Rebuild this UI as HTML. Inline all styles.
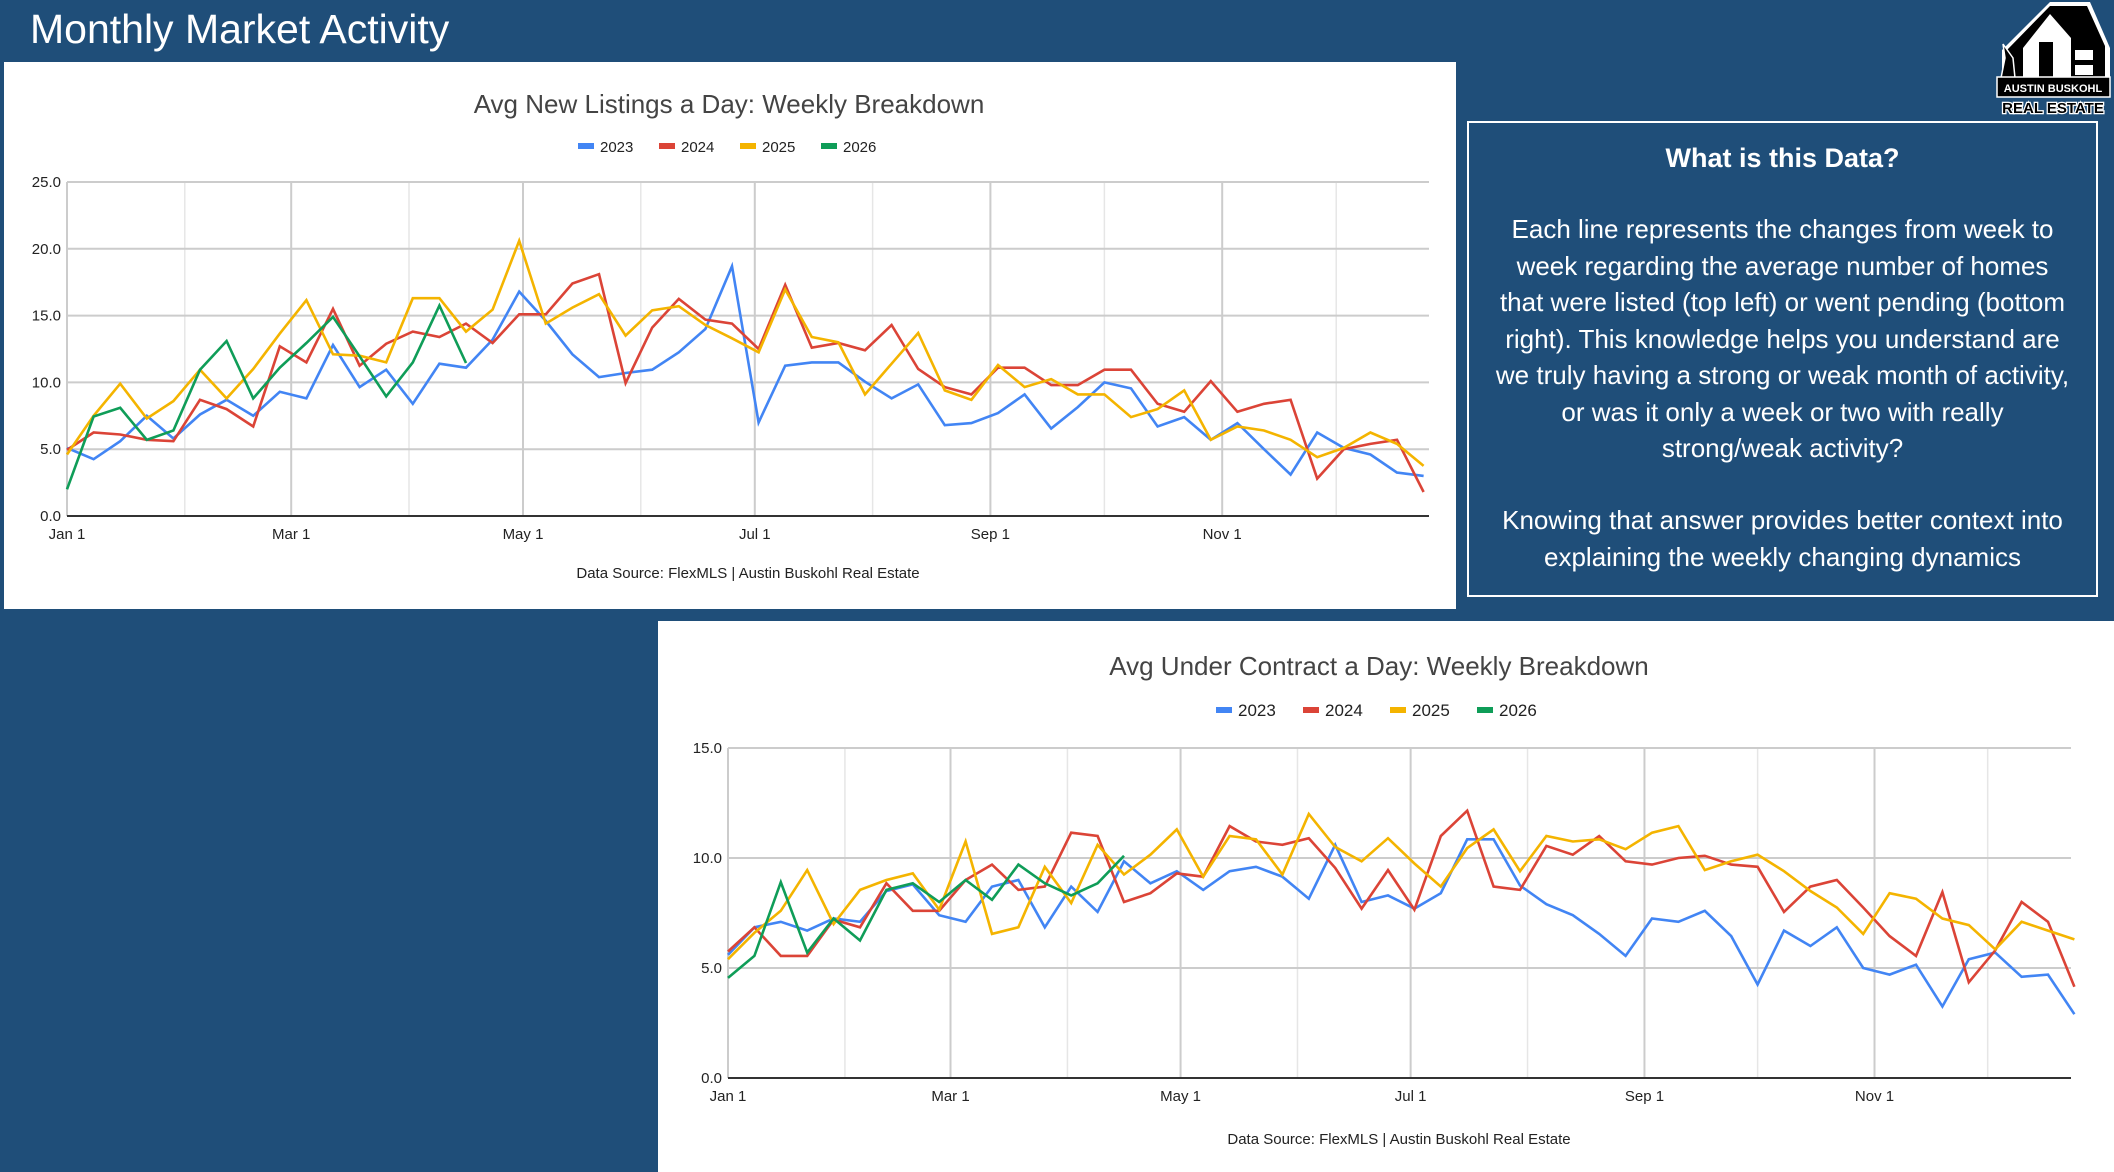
<!DOCTYPE html>
<html><head><meta charset="utf-8">
<style>
html,body{margin:0;padding:0;}
body{width:2114px;height:1172px;background:#1f4e79;position:relative;overflow:hidden;font-family:"Liberation Sans",sans-serif;}
.abs{position:absolute;}
#page-title{left:30px;top:6px;color:#fff;font-size:41px;}
.card{background:#fff;position:absolute;}
#info-box{position:absolute;left:1467px;top:121px;width:627px;height:472px;border:2px solid #fff;color:#fff;text-align:center;}
#info-box .t{font-weight:bold;font-size:27px;position:absolute;left:0;right:0;top:20px;}
#info-box .b{font-size:26px;line-height:36.5px;position:absolute;left:24px;right:24px;}
</style></head>
<body>
<div id="page-title" class="abs">Monthly Market Activity</div>

<svg class="abs" style="left:1975px;top:0" width="139" height="118">
 <polygon points="27,50 75,2 115,2 135,48 135,85 27,85" fill="#fff"/>
 <polygon points="32,50 75,6 112,6 130,46 130,80 32,80" fill="#000"/>
 <polygon points="48,48 75,14 96,38 96,78 48,78" fill="#fff"/>
 <rect x="64" y="42" width="14" height="36" fill="#000"/>
 <rect x="100" y="50" width="18" height="10" fill="#fff"/>
 <rect x="100" y="65" width="18" height="10" fill="#fff"/>
 <path d="M28,44 L30,58 L26,78 L40,78 L38,58 Z" fill="#000" stroke="#fff" stroke-width="1.5"/>
 <rect x="22" y="77" width="113" height="20" fill="#000" stroke="#fff" stroke-width="1.5"/>
 <text x="78" y="92" fill="#fff" font-size="11" font-weight="bold" text-anchor="middle" font-family="Liberation Sans, sans-serif">AUSTIN BUSKOHL</text>
 <text x="78" y="113" fill="#000" stroke="#fff" stroke-width="2.5" paint-order="stroke" font-size="15" font-weight="bold" text-anchor="middle" font-family="Liberation Sans, sans-serif">REAL ESTATE</text>
</svg>

<div class="card" style="left:4px;top:62px;width:1452px;height:547px"></div>
<div class="card" style="left:658px;top:621px;width:1456px;height:551px"></div>

<div id="info-box">
 <div class="t">What is this Data?</div>
 <div class="b" style="top:88px">Each line represents the changes from week to week regarding the average number of homes that were listed (top left) or went pending (bottom right). This knowledge helps you understand are we truly having a strong or weak month of activity, or was it only a week or two with really strong/weak activity?</div>
 <div class="b" style="top:379px">Knowing that answer provides better context into explaining the weekly changing dynamics</div>
</div>

<svg id="chart" class="abs" style="left:0;top:0" width="2114" height="1172"></svg>

<script>
const years = ["2023","2024","2025","2026"];
const colors = ["#4285f4","#db4437","#f4b400","#0f9d58"];
const monthLabels = ["Jan 1","Mar 1","May 1","Jul 1","Sep 1","Nov 1"];
const monthDays = [0,31,59,90,120,151,181,212,243,273,304,334];
const topTicks = [0,5,10,15,20,25];
const botTicks = [0,5,10,15];

const newList2023 = [5.1,4.25,5.6,7.5,5.8,7.6,8.7,7.5,9.3,8.8,12.8,9.65,10.95,8.4,11.4,11.1,13.2,16.8,14.6,12.1,10.4,10.7,10.95,12.25,14,18.7,7.0,11.25,11.5,11.5,10.05,8.8,9.85,6.8,6.95,7.7,9.1,6.55,8.15,10,9.55,6.7,7.4,5.7,6.95,5,3.1,6.25,5.1,4.6,3.25,3];
const newList2024 = [4.95,6.25,6.1,5.7,5.6,8.7,8,6.7,12.7,11.5,15.5,11.25,12.9,13.8,13.4,14.4,12.95,15.1,15.1,17.4,18.1,9.95,14.1,16.25,14.7,14.4,12.5,17.3,12.6,12.95,12.4,14.3,11,9.65,9.1,11.1,11.1,9.8,9.8,10.95,10.95,8.4,7.8,10.1,7.8,8.4,8.7,2.8,5,5.4,5.7,1.8];
const newList2025 = [4.6,7.5,9.9,7.3,8.6,10.95,8.8,11,13.65,16.15,12.1,12,11.5,16.3,16.3,13.8,15.45,20.6,14.4,15.6,16.6,13.5,15.4,15.7,14.3,13.3,12.25,16.95,13.4,13,9.1,11.4,13.7,9.4,8.7,11.3,9.65,10.25,9.1,9.1,7.4,8,9.4,5.7,6.7,6.4,5.7,4.4,5.1,6.25,5.4,3.75];
const newList2026 = [2,7.45,8.1,5.7,6.4,10.95,13.1,8.8,11.1,12.95,14.9,11.95,8.95,11.5,15.75,11.45];

const uc2023 = [5.6,6.85,7.1,6.7,7.25,7.1,8.5,8.8,7.4,7.1,8.7,9,6.85,8.7,7.55,9.85,8.85,9.4,8.55,9.4,9.6,9.15,8.15,10.6,8,8.3,7.7,8.4,10.85,10.85,8.75,7.9,7.4,6.55,5.55,7.25,7.1,7.6,6.45,4.25,6.7,6,6.85,5,4.7,5.15,3.25,5.4,5.7,4.6,4.7,2.9];
const uc2024 = [5.75,6.85,5.55,5.55,7.2,6.85,8.85,7.6,7.6,9,9.7,8.55,8.7,11.15,11,8,8.4,9.3,9.15,11.45,10.75,10.6,10.9,9.55,7.7,9.45,7.65,11,12.15,8.7,8.55,10.55,10.15,11,9.85,9.7,10,10.1,9.7,9.6,7.55,8.7,9,7.75,6.45,5.55,8.45,4.35,5.8,8,7.1,4.15];
const uc2025 = [5.4,6.6,7.6,9.45,7,8.55,9,9.3,7.65,10.75,6.55,6.85,9.6,7.95,10.6,9.25,10.15,11.3,9.15,11,10.85,9.25,12,10.5,9.85,10.9,9.75,8.7,10.45,11.3,9.4,11,10.75,10.85,10.4,11.15,11.45,9.45,9.85,10.15,9.4,8.5,7.75,6.55,8.4,8.15,7.25,6.95,5.85,7.1,6.7,6.3];
const uc2026 = [4.55,5.55,8.9,5.7,7.25,6.25,8.55,8.85,8,9,8.1,9.7,8.85,8.3,8.85,10.1];

const NS="http://www.w3.org/2000/svg";
const svg=document.getElementById('chart');
function mk(tag,attrs,parent){const e=document.createElementNS(NS,tag);for(const k in attrs)e.setAttribute(k,attrs[k]);(parent||svg).appendChild(e);return e;}

function drawChart(cfg){
  const g=mk('g',{});
  
  
  const xScale=i=>cfg.left+i*cfg.step;
  const yScale=v=>cfg.bottom-(v/cfg.max)*(cfg.bottom-cfg.top);
  const xDay=d=>xScale(d/7);
  monthDays.forEach((d,k)=>{
    const l=mk('line',{x1:xDay(d),x2:xDay(d),y1:cfg.top,y2:cfg.bottom,stroke:k%2==0?'#cccccc':'#e6e6e6','stroke-width':k%2==0?2:1.5},g);
    
    
  });
  cfg.ticks.forEach(t=>{
    const l=mk('line',{x1:cfg.left,x2:cfg.right,y1:yScale(t),y2:yScale(t),stroke:t==0?'#333':'#cccccc','stroke-width':2},g);
    
    
    const tx=mk('text',{x:cfg.left-6,y:yScale(t)+5,'text-anchor':'end','font-size':15,fill:'#222'},g);
    tx.textContent=t.toFixed(1);
    
    
  });
  monthLabels.forEach((m,k)=>{
    const tx=mk('text',{x:xDay(monthDays[k*2]),y:cfg.bottom+23,'text-anchor':'middle','font-size':15,fill:'#222'},g);
    tx.textContent=m;
    
    
  });
  cfg.series.forEach((s,si)=>{
    const pts=s.map((v,i)=>xScale(i).toFixed(1)+','+yScale(v).toFixed(1)).join(' ');
    const p=mk('polyline',{points:pts,fill:'none',stroke:colors[si],'stroke-width':2.6,'stroke-linejoin':'miter'},g);
    
    
  });
  const title=mk('text',{x:cfg.titleX,y:cfg.titleY,'text-anchor':'middle','font-size':26,fill:'#444'},g);
  title.textContent=cfg.title;
  
  
  years.forEach((y,k)=>{
    const lx=cfg.legX+k*cfg.legGap;
    const r=mk('rect',{x:lx,y:cfg.legY-3,width:16,height:6,fill:colors[k]},g);
    
    
    const tx=mk('text',{x:lx+22,y:cfg.legY+6,'font-size':cfg.legFont,fill:'#222'},g);
    tx.textContent=y;
    
    
  });
  const src=mk('text',{x:cfg.srcX,y:cfg.srcY,'text-anchor':'middle','font-size':15,fill:'#222'},g);
  src.textContent='Data Source: FlexMLS | Austin Buskohl Real Estate';
  
  
}

drawChart({name:'new-listings-chart',left:67,right:1429,top:182,bottom:516,step:26.6,max:25,ticks:topTicks,
  series:[newList2023,newList2024,newList2025,newList2026],title:'Avg New Listings a Day: Weekly Breakdown',
  titleX:729,titleY:113,legX:578,legGap:81,legY:146,legFont:15,srcX:748,srcY:578});
drawChart({name:'under-contract-chart',left:728,right:2071,top:748,bottom:1078,step:26.4,max:15,ticks:botTicks,
  series:[uc2023,uc2024,uc2025,uc2026],title:'Avg Under Contract a Day: Weekly Breakdown',
  titleX:1379,titleY:675,legX:1216,legGap:87,legY:710,legFont:17,srcX:1399,srcY:1144});
</script>
</body></html>
